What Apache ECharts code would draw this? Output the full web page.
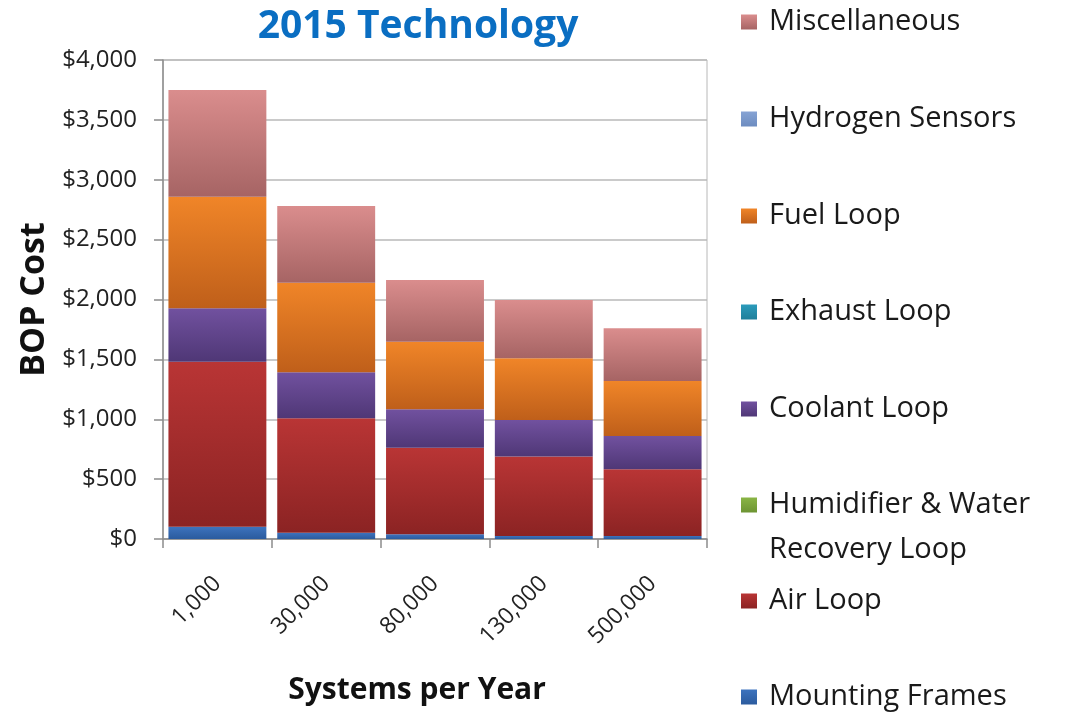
<!DOCTYPE html>
<html>
<head>
<meta charset="utf-8">
<script src="https://cdn.jsdelivr.net/npm/echarts@6/dist/echarts.min.js"></script>
<style>
html,body{margin:0;padding:0;background:#fff;}
#chart{width:1078px;height:712px;}
</style>
</head>
<body>
<div id="chart"></div>
<script>
// ---- data ----
var categories = ['1,000', '30,000', '80,000', '130,000', '500,000'];
var mountingFrames = [103, 53, 39, 25, 25];
var airLoop = [1378, 955, 723, 663, 557];
var humidifierLoop = [0, 0, 0, 0, 0];
var coolantLoop = [446, 384, 321, 306, 278];
var exhaustLoop = [0, 0, 0, 0, 0];
var fuelLoop = [931, 748, 565, 515, 460];
var hydrogenSensors = [0, 0, 0, 0, 0];
var miscellaneous = [891, 641, 515, 487, 440];
var yTicks = [0, 500, 1000, 1500, 2000, 2500, 3000, 3500, 4000];

var FONT = 'Open Sans';

function grad(top, bottom) {
  return new echarts.graphic.LinearGradient(0, 0, 0, 1, [
    {offset: 0, color: top}, {offset: 1, color: bottom}
  ]);
}

// stacking order: bottom -> top
var seriesDefs = [
  {name: 'Mounting Frames', data: mountingFrames, c1: '#3d73be', c2: '#2b5b9e'},
  {name: 'Air Loop', data: airLoop, c1: '#b93535', c2: '#8b2323'},
  {name: 'Humidifier & Water Recovery Loop', data: humidifierLoop, c1: '#8ab545', c2: '#6d9433'},
  {name: 'Coolant Loop', data: coolantLoop, c1: '#71519f', c2: '#4f3776'},
  {name: 'Exhaust Loop', data: exhaustLoop, c1: '#2b9bbb', c2: '#1f7f9a'},
  {name: 'Fuel Loop', data: fuelLoop, c1: '#f08528', c2: '#bf5f1a'},
  {name: 'Hydrogen Sensors', data: hydrogenSensors, c1: '#86a3d4', c2: '#6d8cc0'},
  {name: 'Miscellaneous', data: miscellaneous, c1: '#da8d8d', c2: '#a66464'}
];

var series = seriesDefs.map(function (d) {
  return {
    name: d.name,
    type: 'bar',
    stack: 'bop',
    data: d.data,
    barCategoryGap: '10%',
    itemStyle: {color: grad(d.c1, d.c2)},
    emphasis: {disabled: true}
  };
});

// legend (top -> bottom) with vertical centers
var legendOrder = ['Miscellaneous', 'Hydrogen Sensors', 'Fuel Loop', 'Exhaust Loop',
  'Coolant Loop', 'Humidifier & Water Recovery Loop', 'Air Loop', 'Mounting Frames'];
var legendCenters = [22, 119, 216, 312, 409, 505, 601, 697];

var legends = legendOrder.map(function (name, i) {
  return {
    data: [{name: name, icon: 'rect'}],
    orient: 'vertical',
    left: 741,
    top: legendCenters[i] - 16,
    padding: 0,
    itemWidth: 16,
    itemHeight: 15,
    selectedMode: false,
    formatter: function (n) {
      return n === 'Humidifier & Water Recovery Loop' ? 'Humidifier & Water' : n;
    },
    textStyle: {fontFamily: FONT, fontSize: 29, color: '#1a1a1a', lineHeight: 32, padding: [0, 0, 0, 7]}
  };
});

var chart = echarts.init(document.getElementById('chart'), null, {renderer: 'canvas'});
chart.setOption({
  backgroundColor: '#ffffff',
  animation: false,
  title: {
    text: '2015 Technology',
    left: 418,
    top: 7,
    padding: 0,
    textAlign: 'center',
    textStyle: {fontFamily: FONT, fontSize: 39, fontWeight: 'bold', color: '#0a6ec2'}
  },
  legend: legends,
  grid: {left: 163, right: 371, top: 60, bottom: 173, show: true, borderColor: '#b8b8b8', borderWidth: 1,
         containLabel: false, outerBoundsMode: 'none'},
  xAxis: {
    type: 'category',
    data: categories,
    name: 'Systems per Year',
    nameLocation: 'middle',
    nameGap: 136,
    nameTextStyle: {fontFamily: FONT, fontSize: 30, fontWeight: 'bold', color: '#111', padding: [0, 36, 0, 0]},
    axisLine: {lineStyle: {color: '#8c8c8c', width: 1.5}},
    axisTick: {show: true, length: 9, lineStyle: {color: '#8c8c8c', width: 1.5}},
    axisLabel: {rotate: 45, margin: 41, fontFamily: FONT, fontSize: 23, color: '#222'}
  },
  yAxis: {
    type: 'value',
    min: yTicks[0],
    max: yTicks[yTicks.length - 1],
    interval: 500,
    name: 'BOP Cost',
    nameLocation: 'middle',
    nameGap: 110,
    nameTextStyle: {fontFamily: FONT, fontSize: 34, fontWeight: 'bold', color: '#111'},
    axisLine: {show: true, lineStyle: {color: '#8c8c8c', width: 1.5}},
    axisTick: {show: true, length: 9, lineStyle: {color: '#8c8c8c', width: 1.5}},
    splitLine: {lineStyle: {color: '#b8b8b8', width: 1.5}},
    axisLabel: {
      margin: 26,
      fontFamily: FONT, fontSize: 24, color: '#222',
      formatter: function (v) { return '$' + v.toLocaleString('en-US'); }
    }
  },
  graphic: [{
    type: 'text',
    left: 769,
    top: 535,
    style: {text: 'Recovery Loop', font: '29px "Open Sans"', fill: '#1a1a1a'}
  }],
  series: series
});
</script>
</body>
</html>
